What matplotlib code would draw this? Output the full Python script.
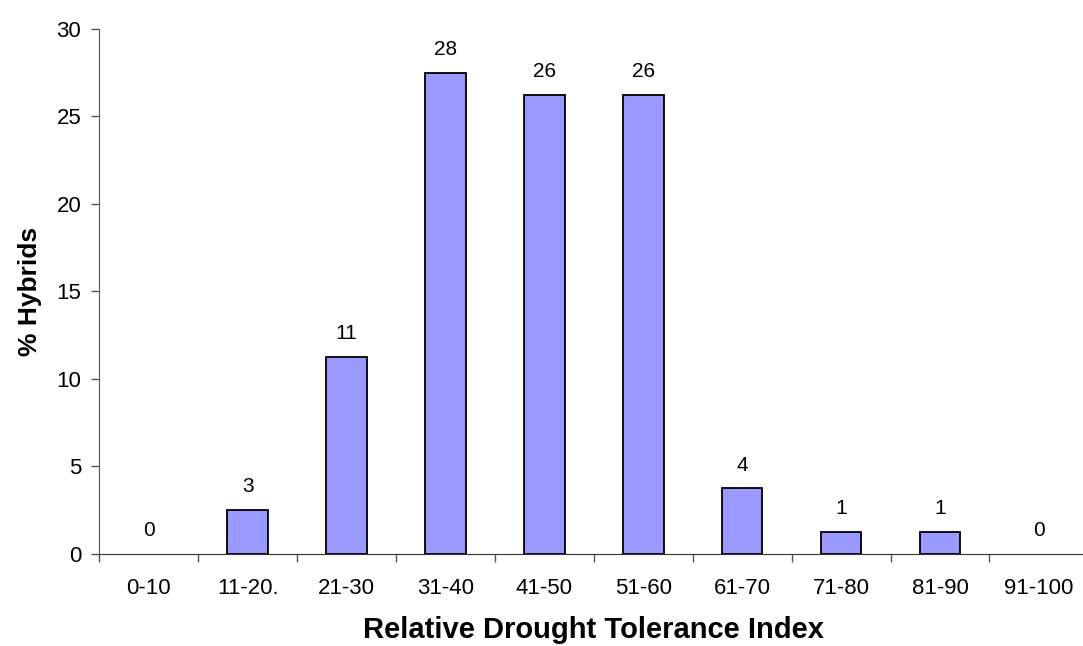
import numpy as np
import matplotlib
matplotlib.use("Agg")
from matplotlib import pyplot as plt

categorias = ["0-10", "11-20.", "21-30", "31-40", "41-50", "51-60",
              "61-70", "71-80", "81-90", "91-100"]
valores = [0, 2.5, 11.25, 27.5, 26.25, 26.25, 3.75, 1.25, 1.25, 0]
etiquetas = ["0", "3", "11", "28", "26", "26", "4", "1", "1", "0"]
yticks = [0, 5, 10, 15, 20, 25, 30]

plt.rcParams["font.family"] = ["Liberation Sans", "DejaVu Sans"]

fig = plt.figure(figsize=(10.83, 6.46), dpi=100)
ax = fig.add_axes([99.3 / 1083, 92.5 / 646, 989.0 / 1083, 524.5 / 646])

x = np.arange(len(categorias))
# las barras en cero no llevan borde
bordes = [1.3 if v > 0 else 0 for v in valores]
ax.bar(x, valores, width=0.41, color="#9999FF", edgecolor="black",
       linewidth=bordes, zorder=3)

for xi, v, t in zip(x, valores, etiquetas):
    ax.annotate(t, (xi, v), xytext=(0, 16.5), textcoords="offset points",
                ha="center", va="center", fontsize=15)

ax.set_xlim(-0.5, len(categorias) - 0.5)
ax.set_ylim(0, 30)
ax.set_yticks(yticks)
ax.set_xticks(x)
ax.set_xticklabels(categorias, fontsize=16)
ax.set_xticks(np.arange(-0.5, len(categorias) - 0.4, 1.0), minor=True)
ax.tick_params(axis="x", which="major", length=0, pad=18)
ax.tick_params(axis="x", which="minor", length=6, width=1, color="#555555")
ax.tick_params(axis="y", length=6, width=1, color="#555555", labelsize=16, pad=7)

for s in ["top", "right"]:
    ax.spines[s].set_visible(False)
ax.spines["left"].set_color("#555555")
ax.spines["bottom"].set_color("#333333")

ax.set_xlabel("Relative Drought Tolerance Index", fontsize=21,
              fontweight="bold", labelpad=12)
ax.set_ylabel("% Hybrids", fontsize=19, fontweight="bold", labelpad=10)

fig.savefig("out.png", dpi=100)
